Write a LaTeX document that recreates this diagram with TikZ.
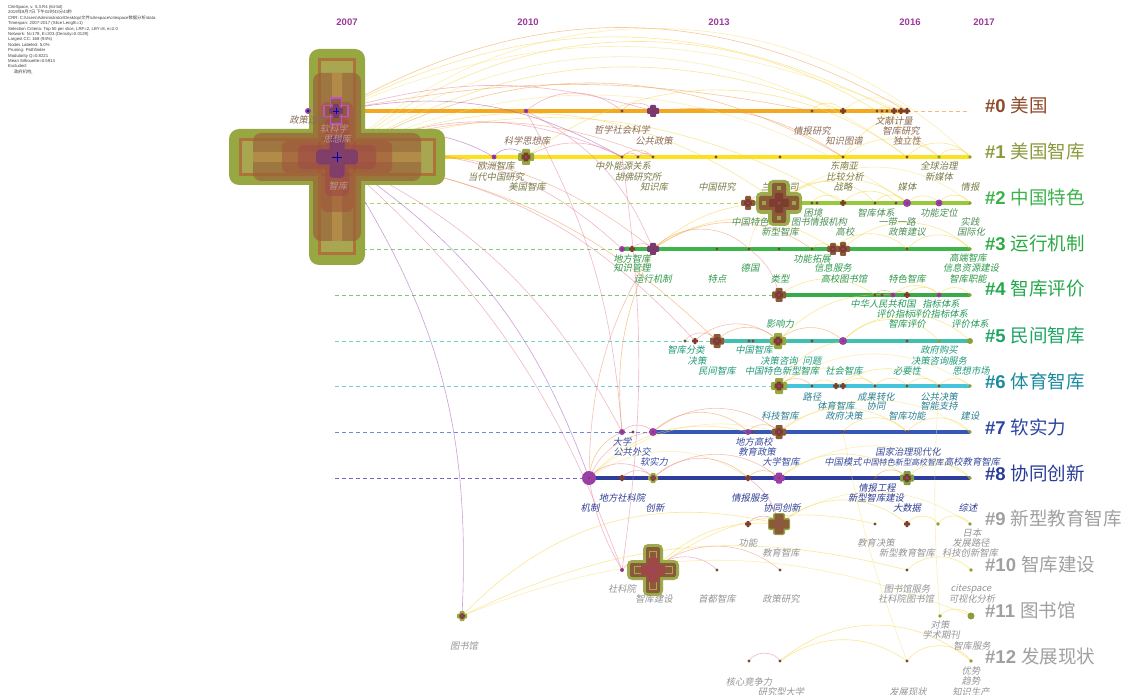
\documentclass[tikz,border=0pt]{standalone}
\usepackage{fontspec}
\setmainfont{Liberation Sans}
\newfontfamily\cjk[FakeSlant=0.2]{Noto Sans CJK SC}
\newfontfamily\cjkup{Noto Sans CJK SC}
\definecolor{olvA}{HTML}{97A843}
\definecolor{olvB}{HTML}{A8A650}
\definecolor{olvE}{HTML}{8A9E3A}
\definecolor{brn}{HTML}{7E3E2C}
\definecolor{brnB}{HTML}{8A5A3A}
\definecolor{brA}{HTML}{9A6238}
\definecolor{brB}{HTML}{A0503A}
\definecolor{brC}{HTML}{A04848}
\definecolor{frameC}{HTML}{B06A3A}
\definecolor{tanC}{HTML}{C4A050}
\definecolor{purA}{HTML}{7A3A70}
\definecolor{pcirc}{HTML}{9B3FA8}
\definecolor{magC}{HTML}{C050D0}
\definecolor{tnc}{HTML}{7A4A30}
\definecolor{grnX}{HTML}{7AA040}
\definecolor{colP}{HTML}{A050B8}
\definecolor{colPk}{HTML}{E47DA0}
\definecolor{colO}{HTML}{F29A45}
\definecolor{colY}{HTML}{F7D540}
\definecolor{colYl}{HTML}{F8E27A}
\definecolor{colR}{HTML}{F0907A}
\definecolor{yearc}{HTML}{9B3A9B}
\definecolor{infoc}{HTML}{404040}
\definecolor{lc0}{HTML}{F4A81D}\definecolor{ld0}{HTML}{F6B878}
\definecolor{lc1}{HTML}{FBE21B}
\definecolor{lc2}{HTML}{97C93D}\definecolor{ld2}{HTML}{A8D86E}
\definecolor{lc3}{HTML}{3DB54A}\definecolor{ld3}{HTML}{7CCF7C}
\definecolor{lc4}{HTML}{39A949}\definecolor{ld4}{HTML}{78C878}
\definecolor{lc5}{HTML}{40C0B0}\definecolor{ld5}{HTML}{6FD6C8}
\definecolor{lc6}{HTML}{45C4DC}\definecolor{ld6}{HTML}{6FD0E8}
\definecolor{lc7}{HTML}{3557B7}\definecolor{ld7}{HTML}{6F88D8}
\definecolor{lc8}{HTML}{2E3D9C}\definecolor{ld8}{HTML}{7066C8}
\definecolor{t0}{HTML}{8A6A55}
\definecolor{tx}{HTML}{B89A8A}
\definecolor{t1}{HTML}{7A7A48}
\definecolor{t2}{HTML}{4E8E55}
\definecolor{t3}{HTML}{2E9A4A}
\definecolor{t4}{HTML}{25995A}
\definecolor{t5}{HTML}{1E9A78}
\definecolor{t6}{HTML}{2C8090}
\definecolor{t7}{HTML}{3A4C9E}
\definecolor{t8}{HTML}{2E3C92}
\definecolor{t9}{HTML}{959595}
\definecolor{k0}{HTML}{8E4A2A}
\definecolor{k1}{HTML}{8A9A3C}
\definecolor{k2}{HTML}{3CB34A}
\definecolor{k3}{HTML}{2DAA44}
\definecolor{k4}{HTML}{25A84C}
\definecolor{k5}{HTML}{1EA564}
\definecolor{k6}{HTML}{1A8A9E}
\definecolor{k7}{HTML}{2B45A3}
\definecolor{k8}{HTML}{2A3B97}
\definecolor{k9}{HTML}{A0A0A0}
\newcounter{lbc}
\newcommand\lb[4]{\stepcounter{lbc}\node[lab,text=#3] (lab\arabic{lbc}) at (#1,#2) {#4};}
\newcommand\xcr[5]{\fill[#4,shift={(#1)},rounded corners=#5] ({-(#2)},{-(#3)}) rectangle ({#2},{#3}) ({-(#3)},{-(#2)}) rectangle ({#3},{#2});}
\newcommand\scr[4]{\xcr{#1}{#2}{#3}{#4}{1}\xcr{#1}{(#2)*0.55}{(#3)*0.6}{brn}{0.5}\fill[pcirc] (#1) circle (1.2);}
\newcommand\arcc[4]{\draw[#3] (#1) to[bend left=#4] (#2);}
\begin{document}
\begin{tikzpicture}[x=1pt,y=-1pt,
 lab/.style={font=\cjk\fontsize{9.3}{10}\selectfont,inner sep=0pt,anchor=center},
 clab/.style={font=\fontsize{18.5}{20}\selectfont,inner sep=0pt,anchor=west},
 yr/.style={font=\bfseries\fontsize{9.5}{10}\selectfont,text=yearc,inner sep=0pt},
 info/.style={font=\fontsize{4.3}{5}\selectfont,text=infoc,inner sep=0pt,anchor=base west},
 edgebase/.style={line width=.6pt,opacity=.55},
 arcp/.style={edgebase,draw=colP}, arcpk/.style={edgebase,draw=colPk},
 arco/.style={edgebase,draw=colO}, arcy/.style={edgebase,draw=colY},
 arcyl/.style={edgebase,draw=colYl}, arcr/.style={edgebase,draw=colR},
 solidln/.style={line width=3.2pt}, dashln/.style={line width=.9pt,dash pattern=on 4pt off 3pt}]
\useasboundingbox (0,0) rectangle (1128,695);
\fill[white] (0,0) rectangle (1128,695);
\clip (0,0) rectangle (1128,695);
% ---------------- coordinates
\coordinate (a0) at (308,111); \coordinate (b0) at (336,111); \coordinate (c0) at (526,111);
\coordinate (d0) at (622,111); \coordinate (e0) at (653,111); \coordinate (f0) at (812,111);
\coordinate (g0) at (843,111); \coordinate (h0) at (877,111); \coordinate (i0) at (882,111);
\coordinate (j0) at (887,111); \coordinate (k0) at (894,111); \coordinate (l0) at (901,111);
\coordinate (m0) at (907,111); \coordinate (z0) at (970,111);
\coordinate (big) at (337,157); \coordinate (a1) at (494,157); \coordinate (b1) at (526,157);
\coordinate (c1) at (622,157); \coordinate (d1) at (638,157); \coordinate (e1) at (653,157);
\coordinate (f1) at (716,157); \coordinate (g1) at (780,157); \coordinate (h1) at (843,157);
\coordinate (i1) at (907,157); \coordinate (j1) at (939,157); \coordinate (k1) at (970,157);
\coordinate (s2) at (335,203); \coordinate (a2) at (748,203); \coordinate (b2) at (779,203);
\coordinate (c2) at (812,203); \coordinate (d2) at (817,203); \coordinate (e2) at (843,203);
\coordinate (f2) at (875,203); \coordinate (g2) at (896,203); \coordinate (h2) at (907,203);
\coordinate (i2) at (939,203); \coordinate (j2) at (970,203);
\coordinate (s3) at (335,249); \coordinate (a3) at (622,249); \coordinate (b3) at (632,249);
\coordinate (c3) at (653,249); \coordinate (d3) at (717,249); \coordinate (e3) at (749,249);
\coordinate (f3) at (779,249); \coordinate (g3) at (812,249); \coordinate (h3) at (833,249);
\coordinate (i3) at (843,249); \coordinate (j3) at (907,249); \coordinate (k3) at (970,249);
\coordinate (s4) at (335,295); \coordinate (a4) at (779,295); \coordinate (b4) at (875,295);
\coordinate (c4) at (882,295); \coordinate (d4) at (893,295); \coordinate (e4) at (907,295);
\coordinate (f4) at (939,295); \coordinate (g4) at (970,295);
\coordinate (s5) at (335,341); \coordinate (a5) at (685,341); \coordinate (b5) at (695,341);
\coordinate (c5) at (717,341); \coordinate (d5) at (749,341); \coordinate (e5) at (753,341);
\coordinate (f5) at (778,341); \coordinate (g5) at (812,341); \coordinate (h5) at (843,341);
\coordinate (i5) at (907,341); \coordinate (j5) at (939,341); \coordinate (k5) at (970,341);
\coordinate (s6) at (335,386); \coordinate (a6) at (779,386); \coordinate (b6) at (812,386);
\coordinate (c6) at (836,386); \coordinate (d6) at (843,386); \coordinate (e6) at (875,386);
\coordinate (f6) at (907,386); \coordinate (g6) at (939,386); \coordinate (h6) at (970,386);
\coordinate (s7) at (335,432); \coordinate (a7) at (622,432); \coordinate (b7) at (633,432);
\coordinate (c7) at (653,432); \coordinate (d7) at (748,432); \coordinate (e7) at (753,432);
\coordinate (f7) at (779,432); \coordinate (g7) at (843,432); \coordinate (h7) at (907,432);
\coordinate (i7) at (970,432);
\coordinate (s8) at (335,478); \coordinate (a8) at (589,478); \coordinate (b8) at (622,478);
\coordinate (c8) at (653,478); \coordinate (d8) at (748,478); \coordinate (e8) at (779,478);
\coordinate (f8) at (875,478); \coordinate (g8) at (907,478); \coordinate (h8) at (970,478);
\coordinate (a9) at (748,524); \coordinate (b9) at (779,524); \coordinate (c9) at (875,524);
\coordinate (d9) at (907,524); \coordinate (e9) at (938,524); \coordinate (f9) at (970,524);
\coordinate (a10) at (622,570); \coordinate (b10) at (653,570); \coordinate (c10) at (717,570);
\coordinate (d10) at (780,570); \coordinate (e10) at (907,570); \coordinate (f10) at (971,570);
\coordinate (a11) at (462,616); \coordinate (b11) at (940,616); \coordinate (c11) at (971,616);
\coordinate (a12) at (749,661); \coordinate (b12) at (780,661); \coordinate (c12) at (907,661);
\coordinate (d12) at (971,661);
% ---------------- info text
\node[info] (inf1) at (8,8.5) {CiteSpace, v. 5.3.R4 (64-bit)};
\node[info] (inf2) at (8,13.9) {2019{\cjkup 年}8{\cjkup 月}7{\cjkup 日 下午}02{\cjkup 时}43{\cjkup 分}43{\cjkup 秒}};
\node[info] (inf3) at (8,19.3) {CRR: C:\textbackslash Users\textbackslash Administrator\textbackslash Desktop\textbackslash{\cjkup 文件}\textbackslash citespace\textbackslash citespace{\cjkup 数据分析}\textbackslash data};
\node[info] (inf4) at (8,24.7) {Timespan: 2007-2017 (Slice Length=1)};
\node[info] (inf5) at (8,30.1) {Selection Criteria: Top 50 per slice, LRF=2, LBY=8, e=2.0};
\node[info] (inf6) at (8,35.5) {Network: N=178, E=203 (Density=0.0129)};
\node[info] (inf7) at (8,40.9) {Largest CC: 168 (94\%)};
\node[info] (inf8) at (8,46.3) {Nodes Labeled: 5.0\%};
\node[info] (inf9) at (8,51.7) {Pruning: Pathfinder};
\node[info] (inf10) at (8,57.1) {Modularity Q=0.8221};
\node[info] (inf11) at (8,62.5) {Mean Silhouette=0.5913};
\node[info] (inf12) at (8,67.9) {Excluded:};
\node[info] (inf13) at (14,73.3) {\cjkup 政府机构;};
% ---------------- years
\node[yr] (y2007) at (347,22) {2007};
\node[yr] (y2010) at (528,22) {2010};
\node[yr] (y2013) at (719,22) {2013};
\node[yr] (y2016) at (910,22) {2016};
\node[yr] (y2017) at (984,22) {2017};
% ---------------- timelines
\draw[solidln,lc0] (b0) -- (m0); \draw[dashln,ld0] (m0) -- (z0);
\draw[solidln,lc1] (big) -- (k1);
\draw[dashln,ld2] (s2) -- (a2); \draw[solidln,lc2] (a2) -- (j2);
\draw[dashln,ld3] (s3) -- (a3); \draw[solidln,lc3] (a3) -- (k3);
\draw[dashln,ld4] (s4) -- (a4); \draw[solidln,lc4] (a4) -- (g4);
\draw[dashln,ld5] (s5) -- (c5); \draw[solidln,lc5] (c5) -- (k5);
\draw[dashln,ld6] (s6) -- (a6); \draw[solidln,lc6] (a6) -- (h6);
\draw[dashln,ld7] (s7) -- (c7); \draw[solidln,lc7] (c7) -- (i7);
\draw[dashln,ld8] (s8) -- (a8); \draw[solidln,lc8] (a8) -- (h8);
% ---------------- arcs
\arcc{big}{k1}{arcyl}{44} \arcc{big}{j1}{arcy}{41} \arcc{b0}{m0}{arco}{30}
\arcc{big}{i1}{arcyl}{37} \arcc{b0}{k0}{arcy}{27} \arcc{big}{h1}{arco}{30}
\arcc{b0}{l0}{arcyl}{23} \arcc{big}{g0}{arcy}{26} \arcc{b0}{e0}{arcpk}{16}
\arcc{b0}{f0}{arco}{11} \arcc{big}{b2}{arcy}{30} \arcc{big}{h2}{arcyl}{30}
\arcc{big}{e2}{arcy}{24} \arcc{b1}{i1}{arcy}{37} \arcc{big}{c1}{arcpk}{25}
\arcc{big}{e1}{arcr}{22} \arcc{big}{a3}{arcpk}{25} \arcc{big}{c3}{arcr}{22}
\arcc{big}{b5}{arcpk}{20} \arcc{big}{c5}{arco}{18} \arcc{big}{a7}{arcpk}{18}
\arcc{big}{a8}{arcp}{18} \arcc{big}{a10}{arcpk}{14} \arcc{big}{a11}{arcp}{18}
\arcc{b0}{c1}{arcp}{20} \arcc{big}{a1}{arcp}{30} \arcc{c0}{c3}{arcpk}{20}
\arcc{c1}{a10}{arcpk}{8} \arcc{e0}{h1}{arco}{20} \arcc{c0}{a7}{arcpk}{12}
\arcc{c3}{b2}{arcy}{20} \arcc{c3}{h3}{arcy}{35} \arcc{c3}{g3}{arco}{35}
\arcc{e3}{b2}{arcyl}{25} \arcc{b2}{h2}{arcy}{40} \arcc{b2}{j2}{arcyl}{40}
\arcc{b2}{f2}{arcy}{50} \arcc{i3}{k3}{arcy}{45} \arcc{h3}{j3}{arcy}{45}
\arcc{c5}{f5}{arco}{50} \arcc{b5}{f5}{arcr}{45} \arcc{a5}{c5}{arcr}{60}
\arcc{f5}{h5}{arco}{45} \arcc{h5}{k5}{arcy}{45} \arcc{h5}{j5}{arcy}{50}
\arcc{f5}{d4}{arcy}{25} \arcc{a6}{e6}{arcy}{40} \arcc{a6}{h6}{arcyl}{35}
\arcc{c6}{g6}{arcy}{35} \arcc{a6}{h5}{arcy}{25} \arcc{a7}{c7}{arcpk}{50}
\arcc{c7}{d7}{arco}{45} \arcc{c7}{f7}{arcr}{40} \arcc{f7}{h7}{arcy}{40}
\arcc{f7}{i7}{arcyl}{35} \arcc{a8}{a7}{arco}{30} \arcc{a8}{c7}{arcr}{30}
\arcc{a8}{d7}{arcy}{30} \arcc{a8}{f7}{arcyl}{28} \arcc{a8}{c8}{arcpk}{50}
\arcc{a8}{d8}{arcyl}{35} \arcc{c8}{e8}{arcr}{40} \arcc{e8}{g8}{arcy}{40}
\arcc{e8}{h8}{arcyl}{35} \arcc{b9}{d9}{arcy}{40} \arcc{b9}{f9}{arcyl}{35}
\arcc{d9}{e9}{arcy}{60} \arcc{e9}{f9}{arcy}{60} \arcc{a9}{b9}{arcpk}{60}
\arcc{b10}{c10}{arcpk}{45} \arcc{b10}{d10}{arcr}{40} \arcc{a10}{b10}{arcpk}{60}
\arcc{b10}{b9}{arcy}{25} \arcc{b10}{c9}{arcy}{25} \arcc{a11}{b9}{arcy}{30}
\arcc{a11}{e10}{arcy}{20} \arcc{a11}{c11}{arcyl}{22} \arcc{b12}{d12}{arcy}{40}
\arcc{b12}{c12}{arcy}{35} \arcc{c12}{d12}{arcy}{55} \arcc{a12}{b12}{arcpk}{60}
\arcc{g7}{c12}{arcyl}{-5} \arcc{g6}{b11}{arcyl}{-4} \arcc{h1}{m0}{arcy}{20}
\arcc{i1}{k1}{arcy}{50} \arcc{j1}{k1}{arcy}{60} \arcc{f0}{g0}{arcy}{60}
\arcc{g0}{m0}{arcyl}{45} \arcc{h1}{j1}{arcy}{40} \arcc{a1}{b1}{arcp}{60}
\arcc{c1}{d1}{arcpk}{60} \arcc{d1}{e1}{arcpk}{60} \arcc{c1}{e1}{arcr}{50}
\arcc{b1}{c1}{arcpk}{30} \arcc{c0}{d0}{arcpk}{40} \arcc{d0}{e0}{arcr}{60}
\arcc{h0}{k0}{arcy}{60} \arcc{k0}{m0}{arcy}{60} \arcc{a2}{b2}{arco}{60}
\arcc{c2}{e2}{arcy}{60} \arcc{e2}{g2}{arcy}{50} \arcc{h2}{i2}{arcy}{50}
\arcc{i2}{j2}{arcy}{60} \arcc{f2}{h2}{arcy}{60} \arcc{a3}{b3}{arcpk}{60}
\arcc{b3}{c3}{arcpk}{60} \arcc{c3}{e3}{arcr}{45} \arcc{g3}{h3}{arcy}{60}
\arcc{j3}{k3}{arcy}{50} \arcc{a4}{b4}{arcy}{35} \arcc{b4}{d4}{arco}{60}
\arcc{d4}{e4}{arco}{60} \arcc{e4}{f4}{arcy}{55} \arcc{d4}{f4}{arcy}{45}
\arcc{f4}{g4}{arcy}{55} \arcc{a6}{b6}{arco}{50} \arcc{b6}{c6}{arcy}{60}
\arcc{d6}{e6}{arcy}{55} \arcc{e6}{f6}{arcy}{55} \arcc{f6}{g6}{arcy}{55}
\arcc{g6}{h6}{arcy}{55} \arcc{g7}{h7}{arcy}{50} \arcc{h7}{i7}{arcy}{50}
\arcc{d7}{f7}{arco}{55} \arcc{b8}{c8}{arcpk}{55} \arcc{c8}{d8}{arcr}{45}
\arcc{d8}{e8}{arco}{55} \arcc{f8}{g8}{arco}{60} \arcc{g8}{h8}{arcy}{50}
\arcc{e10}{f10}{arcy}{45} \arcc{b11}{c11}{arcy}{50} \arcc{e3}{a4}{arcr}{20}
\arcc{a8}{c3}{arcr}{15} \arcc{a7}{c3}{arco}{15} \arcc{d8}{b9}{arcpk}{20}
\arcc{a8}{a10}{arcpk}{-10}
% ---------------- big cross (under labels)
\xcr{big}{108}{28}{olvA}{10}
\xcr{big}{97}{17.5}{olvB}{1}
\draw[frameC,line width=3pt,opacity=.85,shift={(big)}] (-97,-17.5) rectangle (97,17.5) (-17.5,-97) rectangle (17.5,97);
\xcr{big}{84}{24}{brA,opacity=.7}{8}
\fill[tanC,opacity=.5,shift={(big)}] (-84,-5) rectangle (84,5) (-5,-84) rectangle (5,84);
\xcr{big}{55}{16}{brB,opacity=.5}{6}
\xcr{big}{39}{12}{brC,opacity=.55}{5}
\xcr{big}{21}{7.5}{purA,opacity=.85}{4}
\draw[blue!70!black,line width=.8pt,shift={(big)}] (-5,0) -- (5,0) (0,-5) -- (0,5);
% small magenta cross on #0
\draw[magC,line width=1.3pt,fill=brnB,fill opacity=.85,shift={(b0)}] (-12,-5.5) rectangle (12,5.5) (-5.5,-13) rectangle (5.5,13);
\xcr{b0}{7}{3}{purA}{1}
\draw[blue!70!black,line width=.6pt,shift={(b0)}] (-3,0) -- (3,0) (0,-3) -- (0,3);
\fill[pcirc] (a0) circle (3); \fill[blue!60!black] (a0) circle (1.1);
% ---------------- labels
\lb{308}{120}{t0}{政策过程} \lb{334}{129}{tx}{软科学} \lb{337}{139}{tx}{思想库}
\lb{338}{186}{tx}{智库}
\lb{527}{141}{t0}{科学思想库} \lb{622}{130}{t0}{哲学社会科学} \lb{654}{141}{t0}{公共政策}
\lb{812}{131}{t0}{情报研究} \lb{844}{141}{t0}{知识图谱} \lb{894}{121}{t0}{文献计量}
\lb{901}{131}{t0}{智库研究} \lb{907}{141}{t0}{独立性}
\lb{496}{166}{t1}{欧洲智库} \lb{496}{177}{t1}{当代中国研究} \lb{527}{187}{t1}{美国智库}
\lb{623}{166}{t1}{中外能源关系} \lb{638}{177}{t1}{胡佛研究所} \lb{654}{187}{t1}{知识库}
\lb{717}{187}{t1}{中国研究} \lb{780}{187}{t1}{兰德公司} \lb{844}{166}{t1}{东南亚}
\lb{845}{177}{t1}{比较分析} \lb{843}{187}{t1}{战略} \lb{907}{187}{t1}{媒体}
\lb{939}{166}{t1}{全球治理} \lb{939}{177}{t1}{新媒体} \lb{970}{187}{t1}{情报}
\lb{750}{222}{t2}{中国特色} \lb{780}{232}{t2}{新型智库} \lb{813}{213}{t2}{困境}
\lb{819}{222}{t2}{图书情报机构} \lb{845}{232}{t2}{高校} \lb{876}{213}{t2}{智库体系}
\lb{897}{222}{t2}{一带一路} \lb{907}{232}{t2}{政策建议} \lb{939}{213}{t2}{功能定位}
\lb{970}{222}{t2}{实践} \lb{971}{232}{t2}{国际化}
\lb{632}{259}{t3}{地方智库} \lb{632}{268}{t3}{知识管理} \lb{653}{279}{t3}{运行机制}
\lb{717}{279}{t3}{特点} \lb{750}{268}{t3}{德国} \lb{780}{279}{t3}{类型}
\lb{812}{259}{t3}{功能拓展} \lb{833}{268}{t3}{信息服务} \lb{844}{279}{t3}{高校图书馆}
\lb{907}{279}{t3}{特色智库} \lb{968}{258}{t3}{高端智库} \lb{971}{268}{t3}{信息资源建设}
\lb{968}{279}{t3}{智库职能}
\lb{883}{304}{t4}{中华人民共和国} \lb{941}{304}{t4}{指标体系} \lb{895}{314}{t4}{评价指标}
\lb{940}{314}{t4}{评价指标体系} \lb{907}{324}{t4}{智库评价} \lb{970}{324}{t4}{评价体系}
\lb{780}{324}{t4}{影响力}
\lb{686}{350}{t5}{智库分类} \lb{697}{361}{t5}{决策} \lb{717}{371}{t5}{民间智库}
\lb{754}{350}{t5}{中国智库} \lb{779}{361}{t5}{决策咨询} \lb{812}{361}{t5}{问题}
\lb{782}{371}{t5}{中国特色新型智库} \lb{844}{371}{t5}{社会智库} \lb{939}{350}{t5}{政府购买}
\lb{939}{361}{t5}{决策咨询服务} \lb{907}{371}{t5}{必要性} \lb{971}{371}{t5}{思想市场}
\lb{812}{397}{t6}{路径} \lb{836}{406}{t6}{体育智库} \lb{876}{397}{t6}{成果转化}
\lb{876}{406}{t6}{协同} \lb{844}{416}{t6}{政府决策} \lb{939}{397}{t6}{公共决策}
\lb{939}{406}{t6}{智能支持} \lb{907}{416}{t6}{智库功能} \lb{970}{416}{t6}{建设}
\lb{780}{416}{t6}{科技智库}
\lb{622}{442}{t7}{大学} \lb{632}{452}{t7}{公共外交} \lb{654}{462}{t7}{软实力}
\lb{754}{442}{t7}{地方高校} \lb{757}{452}{t7}{教育政策} \lb{781}{462}{t7}{大学智库}
\lb{908}{452}{t7}{国家治理现代化} \lb{843}{462}{t7}{中国模式}
\stepcounter{lbc}\node[lab,text=t7,font=\cjk\fontsize{8.1}{9}\selectfont] (lab\arabic{lbc}) at (903,462) {中国特色新型高校智库};
\lb{972}{462}{t7}{高校教育智库}
\lb{622}{498}{t8}{地方社科院} \lb{590}{508}{t8}{机制} \lb{655}{508}{t8}{创新}
\lb{750}{498}{t8}{情报服务} \lb{782}{508}{t8}{协同创新} \lb{877}{488}{t8}{情报工程}
\lb{876}{498}{t8}{新型智库建设} \lb{907}{508}{t8}{大数据} \lb{968}{508}{t8}{综述}
\lb{748}{543}{t9}{功能} \lb{781}{553}{t9}{教育智库} \lb{876}{543}{t9}{教育决策}
\lb{907}{553}{t9}{新型教育智库} \lb{972}{533}{t9}{日本} \lb{971}{543}{t9}{发展路径}
\lb{970}{553}{t9}{科技创新智库}
\lb{622}{589}{t9}{社科院} \lb{654}{599}{t9}{智库建设} \lb{717}{599}{t9}{首都智库}
\lb{781}{599}{t9}{政策研究} \lb{907}{589}{t9}{图书馆服务} \lb{906}{599}{t9}{社科院图书馆}
\lb{971}{589}{t9}{citespace} \lb{972}{599}{t9}{可视化分析}
\lb{464}{646}{t9}{图书馆} \lb{940}{625}{t9}{对策} \lb{941}{635}{t9}{学术期刊}
\lb{972}{646}{t9}{智库服务}
\lb{749}{682}{t9}{核心竞争力} \lb{781}{692}{t9}{研究型大学} \lb{908}{692}{t9}{发展现状}
\lb{971}{671}{t9}{优势} \lb{971}{681}{t9}{趋势} \lb{971}{692}{t9}{知识生产}
% ---------------- nodes
% b2 big green cross
\xcr{b2}{23}{11}{olvA,opacity=.95}{5}
\xcr{b2}{20}{7}{brnB}{2}
\foreach \dx/\dy in {15/0,-15/0,0/15,0/-15} \fill[olvA,shift={(b2)}] ({\dx-2},{\dy-2}) rectangle ({\dx+2},{\dy+2});
\xcr{b2}{10}{4}{brn}{1}
\fill[pcirc] (b2) circle (1.5);
% b10 big cross
\xcr{b10}{26}{10}{olvA,opacity=.95}{5}
\xcr{b10}{23}{7}{brnB}{2}
\draw[olvB,line width=.8pt,shift={(b10)}] (-19,-3.5) rectangle (19,3.5) (-3.5,-19) rectangle (3.5,19);
\xcr{b10}{12}{5}{brC}{1}
\fill[pcirc] (b10) circle (1.5);
% b9
\xcr{b9}{11}{6}{olvA}{2} \xcr{b9}{10}{4.5}{brnB}{1} \fill[pcirc] (b9) circle (1.2);
% medium crosses
\scr{b1}{8}{4}{olvA}
\scr{f5}{8}{4}{olvA}
\scr{a6}{8}{4}{olvA}
\scr{g8}{7}{3.5}{grnX}
\scr{c5}{7}{3.5}{brnB}
\scr{a4}{7}{3.5}{brnB}
\scr{f7}{7}{3.5}{brnB}
\scr{a2}{7}{3}{brnB}
\scr{h3}{6}{3}{brnB}
\scr{i3}{7}{3}{brnB}
\scr{c8}{5}{2.5}{olvA}
\scr{a11}{5}{2.5}{olvA}
\xcr{c3}{6}{3}{purA}{1} \fill[brn] (c3) circle (1);
\xcr{e0}{6}{3}{purA}{1} \fill[brn] (e0) circle (1);
\xcr{e8}{5.5}{3}{pcirc}{1} \fill[brn] (e8) circle (1);
% tiny crosses
\foreach \n in {b3,b5,e2,e4,c6,d6,b8,d8,a9,m0,d9,g0,k0,l0}{\xcr{\n}{3}{1.3}{brn}{.4}}
% purple circles
\foreach \n/\r in {c0/2.3,a1/2.5,h2/4,i2/3.5,a3/3,d4/2.5,f4/2.5,h5/4,a7/3,c7/4,d7/3,a8/7,a10/2}{\fill[pcirc] (\n) circle (\r); \fill[brn] (\n) circle (1);}
% tiny dots
\foreach \n in {d0,f0,h0,i0,j0,c1,d1,e1,f1,g1,h1,i1,c2,d2,f2,g2,d3,e3,f3,g3,j3,b4,c4,a5,d5,e5,g5,i5,b6,e6,f6,g6,b7,e7,g7,h7,f8,c9,c10,d10,e10,a12,b12,c12}{\fill[tnc] (\n) circle (1.7);}
\foreach \n in {j1,k1,j2,k3,g4,j5,h6,i7,h8,e9,f9,f10,b11,d12}{\fill[olvE] (\n) circle (1.8);}
\fill[olvE] (k5) circle (3); \fill[olvE] (c11) circle (3.5);
% ---------------- cluster labels
\node[clab,text=k0] (cl0) at (985,105) {{\bfseries\#0}\hspace{5pt}{\cjkup 美国}};
\node[clab,text=k1] (cl1) at (985,151) {{\bfseries\#1}\hspace{5pt}{\cjkup 美国智库}};
\node[clab,text=k2] (cl2) at (985,197) {{\bfseries\#2}\hspace{5pt}{\cjkup 中国特色}};
\node[clab,text=k3] (cl3) at (985,243) {{\bfseries\#3}\hspace{5pt}{\cjkup 运行机制}};
\node[clab,text=k4] (cl4) at (985,289) {{\bfseries\#4}\hspace{5pt}{\cjkup 智库评价}};
\node[clab,text=k5] (cl5) at (985,335) {{\bfseries\#5}\hspace{5pt}{\cjkup 民间智库}};
\node[clab,text=k6] (cl6) at (985,381) {{\bfseries\#6}\hspace{5pt}{\cjkup 体育智库}};
\node[clab,text=k7] (cl7) at (985,427) {{\bfseries\#7}\hspace{5pt}{\cjkup 软实力}};
\node[clab,text=k8] (cl8) at (985,473) {{\bfseries\#8}\hspace{5pt}{\cjkup 协同创新}};
\node[clab,text=k9] (cl9) at (985,518) {{\bfseries\#9}\hspace{5pt}{\cjkup 新型教育智库}};
\node[clab,text=k9] (cl10) at (985,564) {{\bfseries\#10}\hspace{5pt}{\cjkup 智库建设}};
\node[clab,text=k9] (cl11) at (985,610) {{\bfseries\#11}\hspace{5pt}{\cjkup 图书馆}};
\node[clab,text=k9] (cl12) at (985,656) {{\bfseries\#12}\hspace{5pt}{\cjkup 发展现状}};
\end{tikzpicture}
\end{document}
